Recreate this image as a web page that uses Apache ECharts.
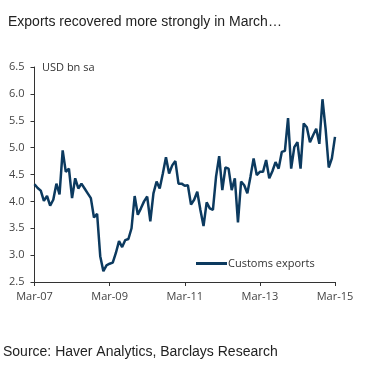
<!DOCTYPE html>
<html>
<head>
<meta charset="utf-8">
<script src="https://cdn.jsdelivr.net/npm/echarts@6/dist/echarts.min.js"></script>
<style>
html,body{margin:0;padding:0;background:#fff;}
#chart{width:366px;height:375px;}
</style>
</head>
<body>
<div id="chart"></div>
<script>
// Monthly customs exports, Mar-07 .. Mar-15 (USD bn, sa)
const exportsValues = [
  4.32, 4.25, 4.20, 4.01, 4.10, 3.92, 4.03, 4.33, 4.13, 4.95,
  4.55, 4.61, 4.06, 4.43, 4.24, 4.33, 4.24, 4.15, 4.06, 3.70,
  3.77, 2.98, 2.70, 2.81, 2.84, 2.86, 3.04, 3.26, 3.15, 3.28,
  3.30, 3.50, 4.10, 3.75, 3.87, 4.00, 4.09, 3.63, 4.15, 4.37,
  4.24, 4.52, 4.82, 4.52, 4.67, 4.75, 4.33, 4.33, 4.29, 4.30,
  3.94, 4.03, 4.18, 3.84, 3.54, 3.98, 3.87, 3.84, 4.46, 4.84,
  4.21, 4.63, 4.61, 4.21, 4.43, 3.61, 4.37, 4.30, 4.15, 4.46,
  4.80, 4.49, 4.55, 4.55, 4.77, 4.43, 4.56, 4.73, 4.61, 4.92,
  4.94, 5.55, 4.61, 5.01, 5.10, 4.61, 5.45, 5.38, 5.10, 5.23,
  5.35, 5.07, 5.90, 5.35, 4.63, 4.80, 5.20
];
const monthNames = ['Jan','Feb','Mar','Apr','May','Jun','Jul','Aug','Sep','Oct','Nov','Dec'];
const startYear = 2007, startMonth = 2; // Mar-07
const categories = exportsValues.map((_, i) => {
  const mi = startMonth + i;
  const y = startYear + Math.floor(mi / 12);
  return monthNames[mi % 12] + '-' + String(y % 100).padStart(2, '0');
});
const xTickLabels = ['Mar-07', 'Mar-09', 'Mar-11', 'Mar-13', 'Mar-15'];
const yTickValues = [2.5, 3.0, 3.5, 4.0, 4.5, 5.0, 5.5, 6.0, 6.5];
const seriesName = 'Customs exports';
const unitLabel = 'USD bn sa';
const titleText = 'Exports recovered more strongly in March\u2026';
const sourceText = 'Source: Haver Analytics, Barclays Research';

const chart = echarts.init(document.getElementById('chart'), null, {renderer: 'canvas'});
const axisFont = '"Open Sans", sans-serif';
const showLabel = (idx, val) => xTickLabels.indexOf(val) !== -1;

chart.setOption({
  animation: false,
  backgroundColor: '#ffffff',
  title: {
    text: titleText,
    left: 3, top: 10,
    textStyle: {fontFamily: '"Liberation Sans", Arial, sans-serif', fontSize: 14, fontWeight: 'normal', color: '#222222'}
  },
  grid: {left: 34.5, right: 31, top: 67, bottom: 93, containLabel: false},
  legend: {
    data: [seriesName],
    left: 191, top: 253,
    icon: 'rect', itemWidth: 31, itemHeight: 3, itemGap: 2,
    textStyle: {fontFamily: axisFont, fontSize: 11, color: '#333333', padding: [0,0,0,-4]}
  },
  xAxis: {
    type: 'category',
    data: categories,
    boundaryGap: false,
    axisLine: {show: true, lineStyle: {color: '#333333', width: 1}},
    axisTick: {show: true, length: 4, interval: showLabel, lineStyle: {color: '#333333'}},
    axisLabel: {interval: showLabel, margin: 9, fontFamily: axisFont, fontSize: 11, color: '#444444'},
    splitLine: {show: false}
  },
  yAxis: {
    type: 'value',
    min: yTickValues[0], max: yTickValues[yTickValues.length - 1], interval: 0.5,
    axisLine: {show: true, lineStyle: {color: '#333333', width: 1}},
    axisTick: {show: true, length: 4, lineStyle: {color: '#333333'}},
    axisLabel: {margin: 10, fontFamily: axisFont, fontSize: 11, color: '#444444', formatter: v => v.toFixed(1)},
    splitLine: {show: false}
  },
  series: [{
    name: seriesName,
    type: 'line',
    data: exportsValues,
    symbol: 'none',
    lineStyle: {color: '#0c3a5f', width: 2.5},
    itemStyle: {color: '#0c3a5f'}
  }],
  graphic: [
    {type: 'text', left: 42, top: 62, style: {text: unitLabel, font: '11px "Open Sans", sans-serif', fill: '#333333'}},
    {type: 'text', left: 3, top: 345, style: {text: sourceText, font: '14px "Liberation Sans", Arial, sans-serif', fill: '#222222'}}
  ]
});
</script>
</body>
</html>
